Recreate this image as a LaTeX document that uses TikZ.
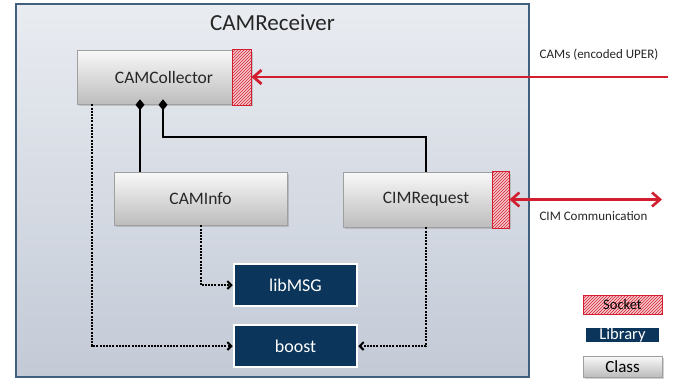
\documentclass[tikz,border=0pt]{standalone}
\usepackage{fontspec}
\setmainfont{Carlito}
\usetikzlibrary{arrows.meta,patterns,shadows,calc}
\definecolor{sockred}{HTML}{D21F30}
\definecolor{sockpink}{HTML}{F6C9CE}
\definecolor{framec}{HTML}{41607E}
\definecolor{frametop}{HTML}{E9ECF1}
\definecolor{framebot}{HTML}{C3CAD6}
\definecolor{libblue}{HTML}{0B355A}
\definecolor{txt}{HTML}{262626}
\begin{document}
\begin{tikzpicture}[x=1pt,y=-1pt,
  every node/.style={inner sep=0pt, text=txt},
  frame/.style={draw=framec, line width=1.3pt, top color=frametop, bottom color=framebot},
  classbox/.style={draw=gray!75, line width=0.6pt, top color=gray!5, bottom color=gray!52,
    drop shadow={shadow xshift=1.5pt, shadow yshift=-1.5pt, opacity=0.35},
    font=\fontsize{17.5}{20}\selectfont},
  socket/.style={draw=sockred, line width=0.8pt, preaction={fill=sockpink},
    pattern=north east lines, pattern color=sockred},
  libbox/.style={draw=white, line width=2.5pt, fill=libblue, text=white,
    drop shadow={shadow xshift=0.8pt, shadow yshift=-0.8pt, opacity=0.3},
    font=\fontsize{18}{21}\selectfont},
  redarrow/.style={draw=sockred, line width=2.8pt, -{Straight Barb[length=8pt,width=14pt]}},
  redboth/.style={draw=sockred, line width=2.6pt, {Straight Barb[length=8pt,width=14pt]}-{Straight Barb[length=8pt,width=14pt]}},
  comp/.style={draw=black, line width=1.8pt, {Diamond[length=11pt,width=9pt]}-},
  dep/.style={draw=black, line width=2pt, dash pattern=on 2pt off 1.2pt, -{Straight Barb[length=4pt,width=8pt]}},
  smalllbl/.style={font=\fontsize{13}{15}\selectfont}
]
\useasboundingbox[fill=white] (0,0) rectangle (686,381);

% frame
\node[frame, minimum width=513pt, minimum height=373pt] (recv) at (272.5,190.5) {};
\node[font=\fontsize{23}{27}\selectfont] (title) at (272.5,23) {CAMReceiver};

% classes
\node[classbox, minimum width=174pt, minimum height=54pt] (coll) at (164,77) {CAMCollector};
\node[socket, minimum width=19pt, minimum height=56pt] (collsock) at (241.5,77) {};
\node[classbox, minimum width=173pt, minimum height=53pt] (info) at (200.5,198.5) {CAMInfo};
\node[classbox, minimum width=166pt, minimum height=55pt] (cim) at (426,199.5) {CIMRequest};
\node[socket, minimum width=17pt, minimum height=57pt] (cimsock) at (500.5,199.5) {};

% libraries
\node[libbox, minimum width=123pt, minimum height=42pt] (lib) at (295.5,285) {libMSG};
\node[libbox, minimum width=123pt, minimum height=42pt] (boost) at (295.5,346) {boost};

% external connectors
\coordinate (camsin) at (668,77);
\coordinate (cimout) at (662,199.5);
\draw[redarrow] (camsin) -- (collsock.east);
\draw[redboth] (cimsock.east) -- (cimout);
\node[smalllbl] (camslbl) at (599,55) {CAMs (encoded UPER)};
\node[smalllbl] (cimlbl) at (593.5,216) {CIM Communication};

% compositions
\draw[comp] ([xshift=-24pt,yshift=5pt]coll.south) -- ([xshift=-24pt]coll.south |- info.north);
\draw[comp] ([xshift=-1pt,yshift=5pt]coll.south) |- ([yshift=35pt]cim.north) -- (cim.north);

% dependencies
\draw[dep] (info.south) |- (lib.west);
\draw[dep] ([xshift=15pt]coll.south west) |- (boost.west);
\draw[dep] (cim.south) |- (boost.east);

% legend
\node[socket, minimum width=79pt, minimum height=19pt, font=\fontsize{14.5}{16}\selectfont, text=black] (legsock) at (622.5,304.5) {Socket};
\node[libbox, minimum width=76pt, minimum height=17pt, font=\fontsize{16.5}{16}\selectfont] (leglib) at (622.5,335) {Library};
\node[classbox, minimum width=79pt, minimum height=21pt, font=\fontsize{17}{19}\selectfont, text=black] (legcls) at (622.5,366.5) {Class};
\end{tikzpicture}
\end{document}
